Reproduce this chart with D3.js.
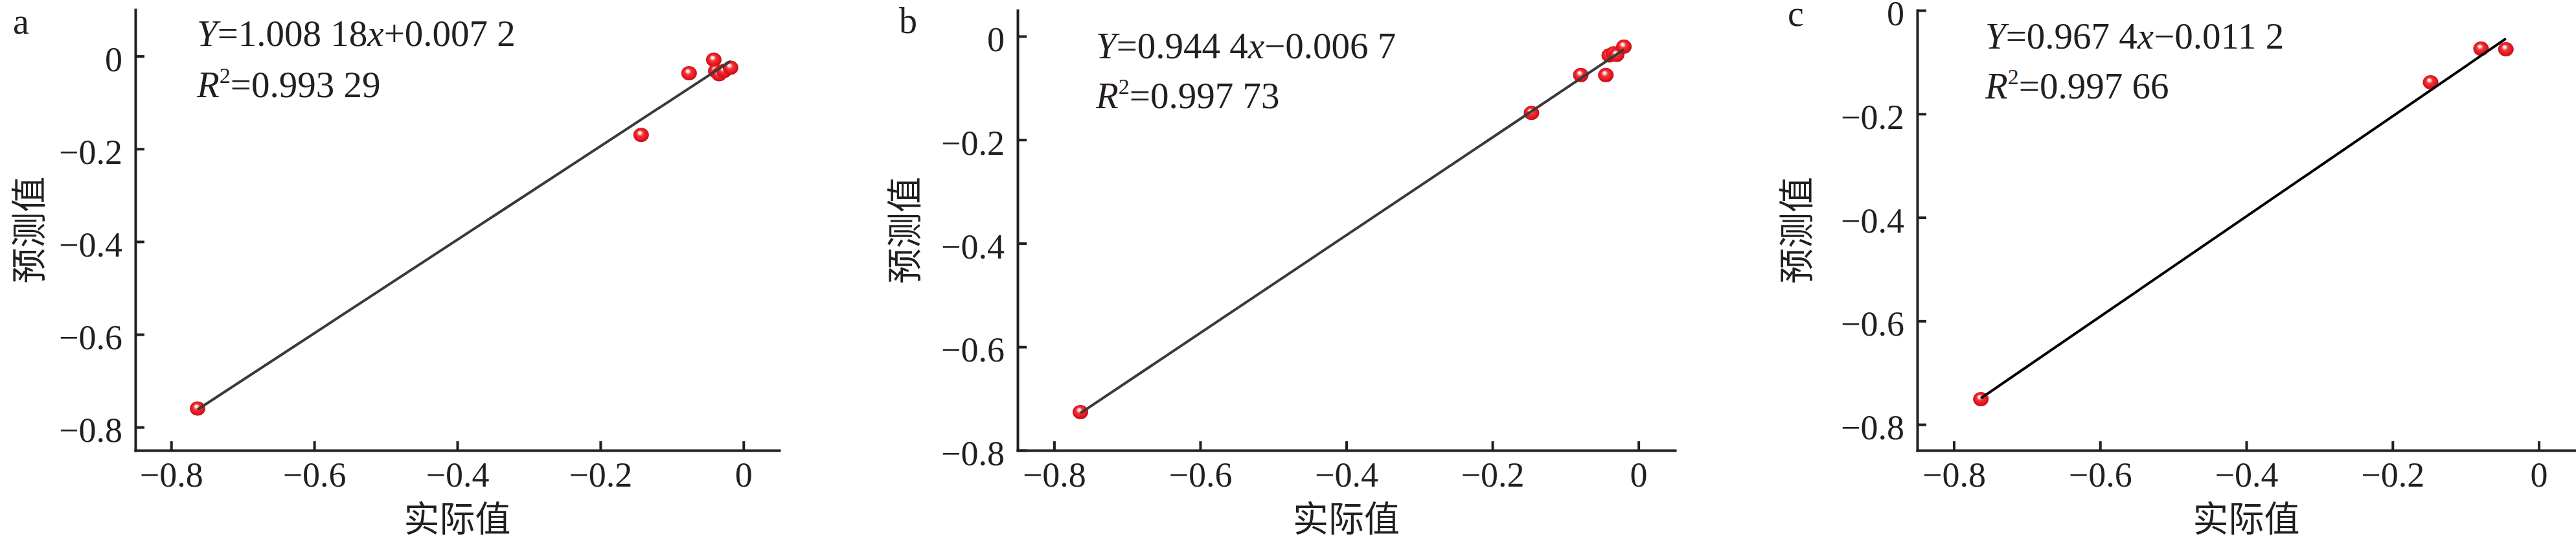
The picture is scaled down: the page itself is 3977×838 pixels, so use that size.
<!DOCTYPE html>
<html>
<head>
<meta charset="utf-8">
<script src="https://cdn.jsdelivr.net/npm/d3@7/dist/d3.min.js"></script>
<style>
  html, body { margin: 0; padding: 0; background: #fff; overflow: hidden; }
  svg { display: block; }
</style>
</head>
<body>
<script>
// ---------------- data ----------------
const xTicks = [-0.8, -0.6, -0.4, -0.2, 0];
const yTicks = [0, -0.2, -0.4, -0.6, -0.8];
const panelLabels = ["a", "b", "c"];
const xTitle = "实际值";
const yTitle = "预测值";

const actualA    = [-0.763, -0.143, -0.076, -0.0415, -0.0387, -0.034, -0.027, -0.018];
const predictedA = [-0.760, -0.170, -0.037, -0.008, -0.032, -0.039, -0.032, -0.025];

const actualB    = [-0.764, -0.1465, -0.079, -0.0447, -0.040, -0.034, -0.030, -0.020];
const predictedB = [-0.726, -0.148, -0.075, -0.075, -0.037, -0.033, -0.036, -0.020];

const actualC    = [-0.763, -0.148, -0.079, -0.045];
const predictedC = [-0.751, -0.139, -0.074, -0.075];

const slopes        = [1.00818, 0.9444, 0.9674];
const intercepts    = [0.0072, -0.0067, -0.0112];
const slopeTexts    = ["1.008 18", "0.944 4", "0.967 4"];
const interceptTexts= ["+0.007 2", "\u22120.006 7", "\u22120.011 2"];
const r2Texts       = ["0.993 29", "0.997 73", "0.997 66"];

const xDomains = [[-0.85, 0.05], [-0.85, 0.05], [-0.85, 0.05]];
const yDomains = [[-0.85, 0.1], [-0.8, 0.05], [-0.85, 0]];

// ---------------- layout ----------------
const W = 3977, H = 838;
const layout = [
  { x0: 209,  x1: 1203, y0: 695, y1: 15, label: [20, 52],   eq: [304, 71, 150],  yTitleX: 40,   lineColor: "#3a3a3a" },
  { x0: 1571, x1: 2586, y0: 695, y1: 16, label: [1388, 51], eq: [1692, 90, 167], yTitleX: 1392, lineColor: "#3a3a3a" },
  { x0: 2960, x1: 3976, y0: 695, y1: 16, label: [2760, 40], eq: [3065, 75, 152], yTitleX: 2769, lineColor: "#000000" }
];
const panelData = [
  { actual: actualA, predicted: predictedA },
  { actual: actualB, predicted: predictedB },
  { actual: actualC, predicted: predictedC }
];

const ink = "#231f20";
const serif = "'Liberation Serif', 'Times New Roman', serif";
const cjk = "'Noto Sans CJK SC', sans-serif";

const svg = d3.select("body").append("svg")
  .attr("width", W).attr("height", H)
  .attr("viewBox", `0 0 ${W} ${H}`);

const defs = svg.append("defs");
const grad = defs.append("radialGradient").attr("id", "ball")
  .attr("cx", "0.5").attr("cy", "0.5").attr("r", "0.55")
  .attr("fx", "0.4").attr("fy", "0.32");
[[0, "#ffffff"], [0.16, "#ffd6d6"], [0.38, "#f2343a"], [0.75, "#e3141c"], [1, "#b80c14"]]
  .forEach(([o, c]) => grad.append("stop").attr("offset", o).attr("stop-color", c));

const fmt = d => d === 0 ? "0" : d3.format(".1f")(d);

layout.forEach((L, i) => {
  const d = panelData[i];
  const x = d3.scaleLinear().domain(xDomains[i]).range([L.x0, L.x1]);
  const y = d3.scaleLinear().domain(yDomains[i]).range([L.y0, L.y1]);
  const g = svg.append("g");

  // axes
  const xAxis = g.append("g").attr("transform", `translate(0,${L.y0})`)
    .call(d3.axisBottom(x).tickValues(xTicks).tickFormat(fmt)
      .tickSize(-14).tickSizeOuter(0).tickPadding(18));
  const yAxis = g.append("g").attr("transform", `translate(${L.x0},0)`)
    .call(d3.axisLeft(y).tickValues(yTicks).tickFormat(fmt)
      .tickSize(-14).tickSizeOuter(0).tickPadding(20));
  [xAxis, yAxis].forEach(ax => {
    ax.attr("font-family", null).attr("font-size", null);
    ax.select(".domain").attr("stroke", ink).attr("stroke-width", 4).attr("stroke-linecap", "square");
    ax.selectAll(".tick line").attr("stroke", ink).attr("stroke-width", 4);
    ax.selectAll(".tick text").attr("fill", ink)
      .style("font-family", serif).style("font-size", "54px");
  });
  yAxis.selectAll(".tick text").attr("dy", "0.42em");

  // points
  g.append("g").selectAll("ellipse")
    .data(d.actual.map((a, k) => [a, d.predicted[k]]))
    .join("ellipse")
    .attr("cx", p => x(p[0])).attr("cy", p => y(p[1]))
    .attr("rx", 12).attr("ry", 11)
    .attr("fill", "url(#ball)");

  // regression line
  const [xmin, xmax] = d3.extent(d.actual);
  const f = v => slopes[i] * v + intercepts[i];
  g.append("line")
    .attr("x1", x(xmin)).attr("y1", y(f(xmin)))
    .attr("x2", x(xmax)).attr("y2", y(f(xmax)))
    .attr("stroke", L.lineColor).attr("stroke-width", 4);

  // panel label
  g.append("text").attr("x", L.label[0]).attr("y", L.label[1])
    .attr("fill", ink).style("font-family", serif).style("font-size", "56px")
    .text(panelLabels[i]);

  // equation
  const eq = g.append("text").attr("x", L.eq[0]).attr("y", L.eq[1])
    .attr("fill", ink).style("font-family", serif).style("font-size", "57px");
  eq.append("tspan").style("font-style", "italic").text("Y");
  eq.append("tspan").text("=" + slopeTexts[i]);
  eq.append("tspan").style("font-style", "italic").text("x");
  eq.append("tspan").text(interceptTexts[i]);

  const r2 = g.append("text").attr("x", L.eq[0]).attr("y", L.eq[2])
    .attr("fill", ink).style("font-family", serif).style("font-size", "57px");
  r2.append("tspan").style("font-style", "italic").text("R");
  r2.append("tspan").attr("dy", -22).style("font-size", "34px").text("2");
  r2.append("tspan").attr("dy", 22).text("=" + r2Texts[i]);

  // axis titles
  g.append("text")
    .attr("x", (L.x0 + L.x1) / 2).attr("y", 820)
    .attr("text-anchor", "middle").attr("fill", ink)
    .style("font-family", cjk).style("font-size", "55px")
    .text(xTitle);
  g.append("text")
    .attr("transform", `translate(${L.yTitleX},${(L.y0 + L.y1) / 2}) rotate(-90)`)
    .attr("text-anchor", "middle").attr("dominant-baseline", "central").attr("fill", ink)
    .style("font-family", cjk).style("font-size", "55px")
    .text(yTitle);
});
</script>
</body>
</html>
